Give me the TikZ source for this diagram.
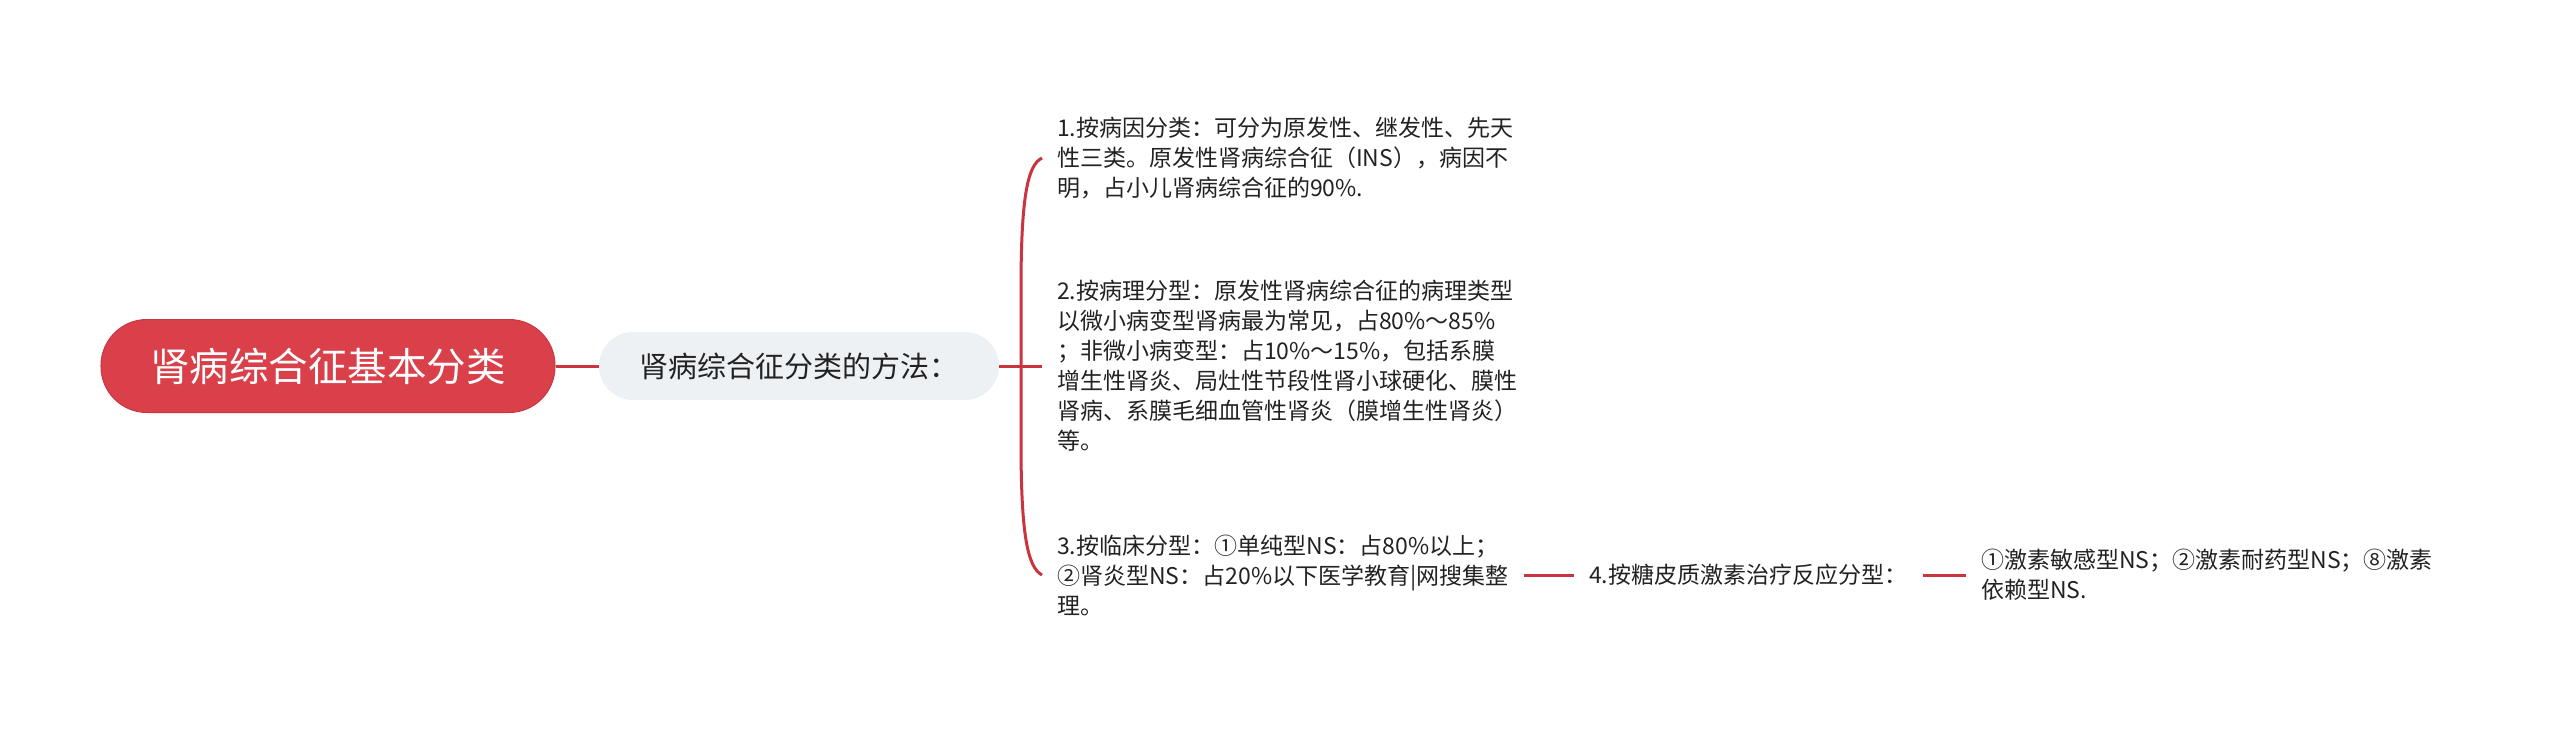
\documentclass[tikz,border=0pt]{standalone}
\usepackage{fontspec}
\newfontfamily\cjk{Noto Sans CJK SC}
\usepackage{tikz}

\definecolor{rootred}{HTML}{D9404A}
\definecolor{rootedge}{HTML}{C8363F}
\definecolor{linkred}{HTML}{C9343E}
\definecolor{kindgray}{HTML}{EEF1F4}
\definecolor{inktext}{HTML}{222222}

\tikzset{
  rootbox/.style={fill=rootred, draw=rootedge, line width=1bp, rounded corners=46bp,
    minimum width=454bp, minimum height=93bp, inner sep=0pt, text=white,
    font={\cjk\fontsize{39.5bp}{46bp}\selectfont}},
  kindbox/.style={fill=kindgray, rounded corners=34bp, minimum width=400bp,
    minimum height=68bp, inner sep=0pt, text=inktext,
    font={\cjk\fontsize{29bp}{34bp}\selectfont}},
  leaf/.style={anchor=west, align=left, inner xsep=15bp, inner ysep=0pt, text=inktext,
    font={\cjk\fontsize{23bp}{30bp}\selectfont}},
  link/.style={draw=linkred, line width=3bp}
}

\begin{document}
\begin{tikzpicture}[x=1bp, y=-1bp]
        \useasboundingbox (0,0) rectangle (2560,732);
        \node[rootbox] (root) at (328,366) {肾病综合征基本分类};
        \node[kindbox] (kind) at (799,366) {肾病综合征分类的方法：};
        \node[leaf] (cause) at (1042,158) {1.按病因分类：可分为原发性、继发性、先天\\性三类。原发性肾病综合征（INS），病因不\\明，占小儿肾病综合征的90\%.};
        \node[leaf] (patho) at (1042,366) {2.按病理分型：原发性肾病综合征的病理类型\\以微小病变型肾病最为常见，占80\%～85\%\\；非微小病变型：占10\%～15\%，包括系膜\\增生性肾炎、局灶性节段性肾小球硬化、膜性\\肾病、系膜毛细血管性肾炎（膜增生性肾炎）\\等。};
        \node[leaf] (clinic) at (1042,575) {3.按临床分型：①单纯型NS：占80\%以上；\\②肾炎型NS：占20\%以下医学教育|网搜集整\\理。};
        \node[leaf] (steroid) at (1574,575) {4.按糖皮质激素治疗反应分型：};
        \node[leaf] (resp) at (1966,575) {①激素敏感型NS；②激素耐药型NS；⑧激素\\依赖型NS.};
        
        % Edge
        \draw[link] (root) -- (kind);
        \draw[link] (kind) -- (patho.west);
        \draw[link] (cause.west) .. controls (1027,165) and (1021,200) .. (1021,290)
          -- (1021,442) .. controls (1021,532) and (1027,567) .. (clinic.west);
        \draw[link] (clinic) -- (steroid);
        \draw[link] (steroid) -- (resp);
        \end{tikzpicture}
\end{document}
